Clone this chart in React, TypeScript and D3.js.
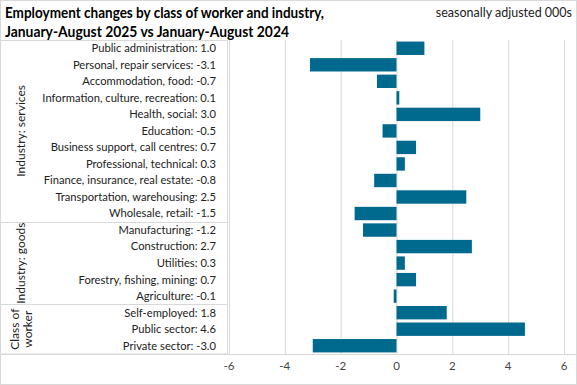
import * as d3 from "d3";

const WIDTH = 577;
const HEIGHT = 385;

const categories = [
  "Public administration",
  "Personal, repair services",
  "Accommodation, food",
  "Information, culture, recreation",
  "Health, social",
  "Education",
  "Business support, call centres",
  "Professional, technical",
  "Finance, insurance, real estate",
  "Transportation, warehousing",
  "Wholesale, retail",
  "Manufacturing",
  "Construction",
  "Utilities",
  "Forestry, fishing, mining",
  "Agriculture",
  "Self-employed",
  "Public sector",
  "Private sector",
];

const values = [1.0, -3.1, -0.7, 0.1, 3.0, -0.5, 0.7, 0.3, -0.8, 2.5, -1.5, -1.2, 2.7, 0.3, 0.7, -0.1, 1.8, 4.6, -3.0];

const groups = [
  { lines: ["Industry: services"], first: 0, last: 10 },
  { lines: ["Industry: goods"], first: 11, last: 15 },
  { lines: ["Class of", "worker"], first: 16, last: 18 },
];

const ticks = [-6, -4, -2, 0, 2, 4, 6];

const BAR = "#006a8e";
const GRID = "#d9d9d9";
const FONT = "Lato, 'Open Sans', sans-serif";

export default function App() {
  const x = d3.scaleLinear().domain([-6, 6]).range([229, 564]);
  const y = d3.scaleBand().domain(categories).range([40, 354]).paddingInner(0.19).paddingOuter(0.095);
  const rowTop = (i: number) => 40 + i * (314 / categories.length);

  return (
    <svg width={WIDTH} height={HEIGHT} style={{ position: "absolute", left: 0, top: 0, display: "block" }}>
      <rect x={0.5} y={0.5} width={WIDTH - 1} height={HEIGHT - 1} fill="white" stroke={GRID} />

      <text x={5} y={18} fontFamily={FONT} fontWeight="bold" fontSize={15.8} fill="#000"
        textLength={319} lengthAdjust="spacingAndGlyphs">
        Employment changes by class of worker and industry,
      </text>
      <text x={5} y={37} fontFamily={FONT} fontWeight="bold" fontSize={15.8} fill="#000"
        textLength={284} lengthAdjust="spacingAndGlyphs">
        January-August 2025 vs January-August 2024
      </text>
      <text x={572} y={17} textAnchor="end" fontFamily={FONT} fontSize={12.5} fill="#222">
        seasonally adjusted 000s
      </text>

      {/* gridlines */}
      {ticks.map((t) => (
        <line key={t} x1={x(t) + 0.5} x2={x(t) + 0.5} y1={40} y2={354} stroke={GRID} />
      ))}

      {/* label table */}
      <rect x={0.5} y={40.5} width={227} height={313.5} fill="none" stroke={GRID} />
      <line x1={0} x2={576} y1={354.5} y2={354.5} stroke={GRID} />
      {groups.slice(1).map((g) => (
        <line key={g.first} x1={0} x2={227.5} y1={Math.round(rowTop(g.first)) + 0.5} y2={Math.round(rowTop(g.first)) + 0.5} stroke={GRID} />
      ))}
      {groups.map((g) => {
        const cy = (rowTop(g.first) + rowTop(g.last + 1)) / 2;
        const n = g.lines.length;
        return g.lines.map((l, k) => {
          const cx = 21 + (k - (n - 1) / 2) * 13;
          return (
            <text
              key={l}
              transform={`translate(${cx},${cy}) rotate(-90)`}
              textAnchor="middle"
              dy="0.35em"
              fontFamily={FONT}
              fontSize={12}
              fill="#222"
            >
              {l}
            </text>
          );
        });
      })}

      {categories.map((c, i) => (
        <text
          key={c}
          x={216}
          y={(y(c) ?? 0) + y.bandwidth() / 2}
          dy="0.35em"
          textAnchor="end"
          fontFamily={FONT}
          fontSize={11.2}
          fill="#222"
        >
          {`${c}: ${values[i].toFixed(1)}`}
        </text>
      ))}

      {/* bars */}
      {categories.map((c, i) => (
        <rect
          key={c}
          x={x(Math.min(0, values[i]))}
          y={y(c)}
          width={Math.abs(x(values[i]) - x(0))}
          height={y.bandwidth()}
          fill={BAR}
        />
      ))}

      {ticks.map((t) => (
        <text key={t} x={x(t)} y={366} dy="0.35em" textAnchor="middle" fontFamily={FONT} fontSize={11.5} fill="#444">
          {t}
        </text>
      ))}
    </svg>
  );
}
